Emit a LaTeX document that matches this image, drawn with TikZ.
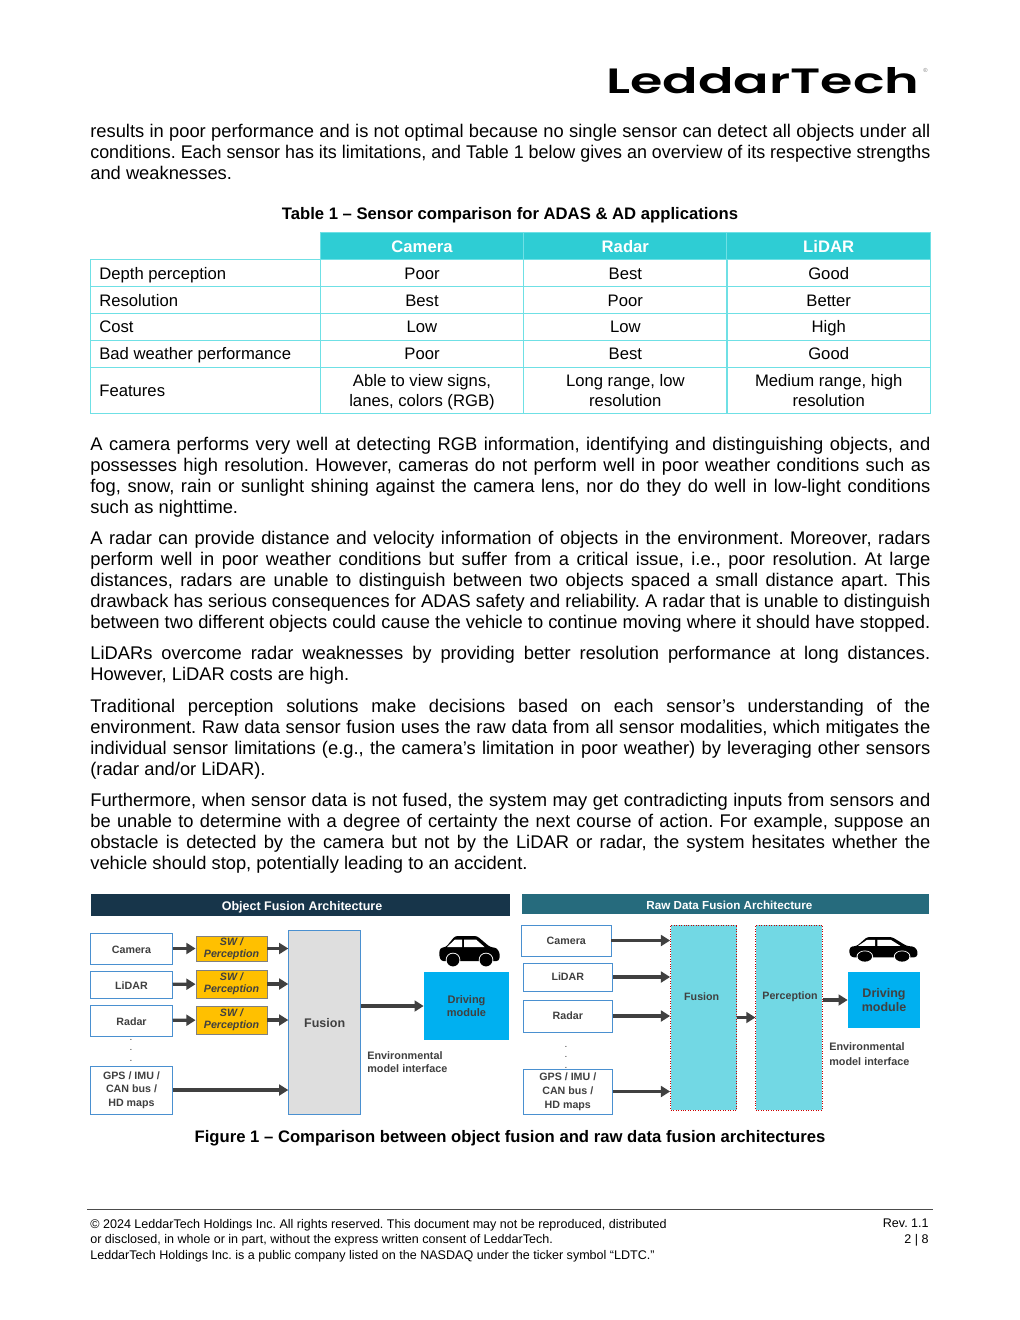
\documentclass[tikz,border=0pt]{standalone}
\usepackage{fontspec}
\setmainfont{Liberation Sans}
\newfontfamily\logofont{Poppins}[UprightFont=* SemiBold]
\usetikzlibrary{positioning}
\usetikzlibrary{matrix}
\usetikzlibrary{arrows.meta}
\definecolor{tableline}{HTML}{6FE0E5}
\definecolor{tablehead}{HTML}{2ECDD4}
\definecolor{objecthead}{HTML}{17354A}
\definecolor{rawhead}{HTML}{266B7D}
\definecolor{boxline}{HTML}{4A90D0}
\definecolor{swfill}{HTML}{FFC000}
\definecolor{fusiongrey}{HTML}{DEDEDE}
\definecolor{drivingblue}{HTML}{00B0F0}
\definecolor{rawfill}{HTML}{72D8E4}
\definecolor{flowgrey}{HTML}{404040}
\newsavebox\linebox
\newcommand*\fitline[1]{%
    \sbox\linebox{#1}%
    \leavevmode\ifdim\wd\linebox>504bp\resizebox{504bp}{\height}{\usebox\linebox}\else\hbox to 504bp{\spaceskip=0pt\xspaceskip=0pt\relax #1}\fi\\%
}
\newcommand*\caricon[4]{%
    \begin{scope}[shift={(#1,#2)},xscale=#3,yscale=#4]%
        \fill[black,rounded corners=1.5] (16,0) -- (38,0) -- (51,11) -- (58,12) -- (61,18)
            -- (60,25) -- (2,25) -- (0,19) -- (1,12) -- (7,11) -- cycle;% body
        \fill[white] (8,11) -- (16,3.5) -- (23,3.5) -- (23,11) -- cycle;% rear window
        \fill[white] (25,3.5) -- (37,3.5) -- (45.5,11) -- (25,11) -- cycle;% front window
        \foreach \x in {14,47}{%
            \fill[white] (\x,24) circle (7.3);%
            \fill[black] (\x,24) circle (6.4);%
        }%
    \end{scope}%
}
\begin{document}
\frenchspacing
\begin{tikzpicture}
    [%
        x=0.6bp,y=-0.6bp,%
        every node/.style={%
            execute at begin node={\spaceskip=.278em\xspaceskip=.278em\relax}%
        },%
        para/.style={%
            anchor=base west,%
            inner sep=0pt,%
            text width=504bp,%
            align=left,%
            font=\fontsize{11bp}{12.6bp}\selectfont%
        },%
        footer/.style={%
            inner sep=0pt,%
            font=\fontsize{7.53bp}{9.2bp}\selectfont%
        },%
        caption/.style={%
            inner sep=0pt,%
            font=\bfseries\fontsize{10bp}{12bp}\selectfont%
        },%
        head bar/.style={%
            inner sep=0pt,%
            text=white,%
            text height=6.5bp,%
            text depth=0pt%
        },%
        sensor/.style={%
            draw=boxline,%
            fill=white,%
            line width=0.5pt,%
            inner sep=0pt,%
            align=center,%
            text=flowgrey%
        },%
        object sensor/.style={%
            sensor,%
            execute at begin node=\rule{0pt}{6bp},%
            font=\bfseries\fontsize{6.4bp}{8bp}\selectfont%
        },%
        raw sensor/.style={%
            sensor,%
            font=\bfseries\fontsize{6.4bp}{8.4bp}\selectfont%
        },%
        sw box/.style={%
            draw=gray,%
            fill=swfill,%
            line width=0.5pt,%
            minimum width=42.6bp,%
            inner sep=0pt,%
            align=center,%
            text=flowgrey,%
            font=\bfseries\itshape\fontsize{6.4bp}{7.2bp}\selectfont%
        },%
        fusion box/.style={%
            draw=boxline,%
            fill=fusiongrey,%
            line width=0.5pt,%
            text=flowgrey,%
            text height=7bp,%
            text depth=0pt,%
            font=\bfseries\fontsize{7.5bp}{9bp}\selectfont%
        },%
        raw box/.style={%
            draw=red!80!black,%
            densely dotted,%
            fill=rawfill,%
            line width=0.5pt,%
            minimum width=39.8bp,%
            minimum height=111bp,%
            inner sep=0pt%
        },%
        raw label/.style={%
            inner sep=0pt,%
            text=flowgrey,%
            font=\bfseries\fontsize{6.4bp}{8bp}\selectfont%
        },%
        driving/.style={%
            fill=drivingblue,%
            inner sep=0pt,%
            align=center,%
            text=flowgrey%
        },%
        note/.style={%
            anchor=north west,%
            inner sep=0pt,%
            align=left,%
            text=flowgrey%
        },%
        dots/.style={%
            inner sep=0pt,%
            align=center,%
            text=flowgrey,%
            font=\fontsize{6bp}{6.3bp}\selectfont%
        },%
        flow/.style={%
            draw=flowgrey,%
            line width=1.9bp,%
            -{Triangle[length=5.5bp,width=6.5bp]}%
        },%
        table grid/.style={%
            matrix of nodes,%
            inner sep=0pt,%
            column sep=-0.6pt,%
            row sep=-0.6pt,%
            nodes={%
                draw=tableline,%
                line width=0.6pt,%
                anchor=center,%
                outer sep=0pt,%
                inner sep=0pt,%
                minimum height=16.1bp,%
                text height=8.4bp,%
                text depth=1.2bp,%
                execute at begin node={\spaceskip=.278em\xspaceskip=.278em\relax},%
                font=\fontsize{10bp}{12bp}\selectfont%
            },%
            column 1/.style={nodes={text width=127.2bp,inner xsep=5.4bp,minimum width=138bp,align=left}},%
            column 2/.style={nodes={text width=122bp,align=center}},%
            column 3/.style={nodes={text width=122bp,align=center}},%
            column 4/.style={nodes={text width=122bp,align=center}},%
            row 1/.style={nodes={fill=tablehead,text=white,minimum height=16.2bp,font=\bfseries\fontsize{10bp}{12bp}\selectfont}},%
            row 6/.style={nodes={minimum height=27.6bp}},%
            row 6 column 2/.style={nodes={text depth=13.2bp}},%
            row 6 column 3/.style={nodes={text depth=13.2bp}},%
            row 6 column 4/.style={nodes={text depth=13.2bp}}%
        }%
    ]%
%
    \useasboundingbox[fill=white] (0,0) rectangle (1020,1320);
%
    \node[inner sep=0pt,anchor=center] (logo) at (763,81)
        {\resizebox{187.8bp}{15.6bp}{\logofont LeddarTech}};
    \node[inner sep=0pt,font=\fontsize{3.5bp}{4bp}\selectfont,text=gray] (logo-mark) at (925.5,70.5) {®};
%
    \node[para] (para-intro) at (90,137) {%
        \fitline{results in poor performance and is not optimal because no single sensor can detect all objects under all}
        \fitline{conditions. Each sensor has its limitations, and Table 1 below gives an overview of its respective strengths}
        and weaknesses.};
    \node[caption] (table-title) at (510,215) {Table 1 – Sensor comparison for ADAS \& AD applications};
%
    \matrix[table grid,anchor=north west] (sensor-table) at (89.5,232) {
        & Camera & Radar & LiDAR \\
        Depth perception & Poor & Best & Good \\
        Resolution & Best & Poor & Better \\
        Cost & Low & Low & High \\
        Bad weather performance & Poor & Best & Good \\
        Features & {Able to view signs,\\ lanes, colors (RGB)} & {Long range, low\\ resolution} & {Medium range, high\\ resolution} \\
    };
%
    \node[para] (para-camera) at (90,450) {%
        \fitline{A camera performs very well at detecting RGB information, identifying and distinguishing objects, and}
        \fitline{possesses high resolution. However, cameras do not perform well in poor weather conditions such as}
        \fitline{fog, snow, rain or sunlight shining against the camera lens, nor do they do well in low-light conditions}
        such as nighttime.};
    \node[para] (para-radar) at (90,544) {%
        \fitline{A radar can provide distance and velocity information of objects in the environment. Moreover, radars}
        \fitline{perform well in poor weather conditions but suffer from a critical issue, i.e., poor resolution. At large}
        \fitline{distances, radars are unable to distinguish between two objects spaced a small distance apart. This}
        \fitline{drawback has serious consequences for ADAS safety and reliability. A radar that is unable to distinguish}
        \fitline{between two different objects could cause the vehicle to continue moving where it should have stopped.}};
    \node[para] (para-lidar) at (90,659) {%
        \fitline{LiDARs overcome radar weaknesses by providing better resolution performance at long distances.}
        However, LiDAR costs are high.};
    \node[para] (para-traditional) at (90,712) {%
        \fitline{Traditional perception solutions make decisions based on each sensor’s understanding of the}
        \fitline{environment. Raw data sensor fusion uses the raw data from all sensor modalities, which mitigates the}
        \fitline{individual sensor limitations (e.g., the camera’s limitation in poor weather) by leveraging other sensors}
        (radar and/or LiDAR).};
    \node[para] (para-further) at (90,806) {%
        \fitline{Furthermore, when sensor data is not fused, the system may get contradicting inputs from sensors and}
        \fitline{be unable to determine with a degree of certainty the next course of action. For example, suppose an}
        \fitline{obstacle is detected by the camera but not by the LiDAR or radar, the system hesitates whether the}
        vehicle should stop, potentially leading to an accident.};
%
    % object fusion side
    \node[head bar,fill=objecthead,minimum width=251.4bp,minimum height=13.2bp,font=\bfseries\fontsize{7.5bp}{9bp}\selectfont] (object-head) at (300.5,905) {\hspace{1.8bp}Object Fusion Architecture};
    \foreach \n/\y/\h/\t in {%
        camera/948.5/18.6bp/Camera,%
        lidar/984.5/16.2bp/LiDAR,%
        radar/1020.5/18.6bp/Radar,%
        gps/1090/28.8bp/{GPS / IMU /\\ CAN bus /\\ HD maps}%
    }
        \node[object sensor,minimum width=49bp,minimum height=\h] (object-\n) at (131.5,\y) {\t};
    \foreach \n/\y/\h in {camera/948.5/15bp,lidar/984/16.8bp,radar/1020/16.8bp}
        \node[sw box,minimum height=\h] (sw-\n) at (231.5,\y) {SW /\\ Perception};
    \node[fusion box,minimum width=43.2bp,minimum height=110.4bp] (object-fusion) at (324.7,1022) {Fusion};
    \node[driving,minimum width=51bp,minimum height=40.8bp,font=\bfseries\fontsize{6.6bp}{8bp}\selectfont] (object-driving) at (466.5,1006) {Driving\\ module};
    \node[note,font=\bfseries\fontsize{6.5bp}{7.9bp}\selectfont] (object-note) at (367,1051) {Environmental\\ model interface};
    \node[dots] (object-dots) at (131,1050) {.\\ .\\ .};
    \caricon{439}{936}{1}{1}
    \foreach \n in {camera,lidar,radar}{
        \draw[flow] (object-\n) -- (sw-\n);
        \draw[flow] (sw-\n) -- (sw-\n -| object-fusion.west);
    }
    \draw[flow] (object-gps) -- (object-gps -| object-fusion.west);
    \draw[flow] (object-driving -| object-fusion.east) -- (object-driving);
%
    % raw data fusion side
    \node[head bar,fill=rawhead,minimum width=244.4bp,minimum height=12bp,font=\bfseries\fontsize{7bp}{8bp}\selectfont] (raw-head) at (725.4,904) {\hspace{4.8bp}Raw Data Fusion Architecture};
    \foreach \n/\x/\y/\h/\t in {%
        camera/566.3/940.5/18.6bp/Camera,%
        lidar/567.8/977/16.8bp/LiDAR,%
        radar/567.8/1016/19.2bp/Radar,%
        gps/567.8/1091.5/27bp/{GPS / IMU /\\ CAN bus /\\ HD maps}%
    }
        \node[raw sensor,minimum width=53.6bp,minimum height=\h] (raw-\n) at (\x,\y) {\t};
    \node[raw box] (raw-fusion) at (703.7,1017.5) {};
    \node[raw box] (raw-perception) at (789,1017.5) {};
    \node[raw label] (raw-fusion-label) at (701.7,997) {Fusion};
    \node[raw label] (raw-perception-label) at (790,997) {Perception};
    \node[driving,minimum width=43.2bp,minimum height=33.6bp,font=\bfseries\fontsize{7.5bp}{8.4bp}\selectfont] (raw-driving) at (884,1000) {Driving\\ module};
    \node[note,font=\bfseries\fontsize{6.5bp}{9bp}\selectfont] (raw-note) at (829,1042) {Environmental\\ model interface};
    \node[dots] (raw-dots) at (566,1057) {.\\ .\\ .};
    \caricon{849}{937}{1.13}{0.81}
    \foreach \n in {camera,lidar,radar,gps}
        \draw[flow] (raw-\n) -- (raw-\n -| raw-fusion.west);
    \draw[flow] (raw-fusion) ++(33,0) coordinate (raw-link) -- (raw-link -| raw-perception.west);
    \draw[flow] (raw-driving -| raw-perception.east) -- (raw-driving);
%
    \node[caption] (figure-title) at (510,1138) {Figure 1 – Comparison between object fusion and raw data fusion architectures};
%
    \coordinate (rule-left) at (87,1209);
    \coordinate (rule-right) at (933,1209);
    \draw[line width=0.6pt,black!70] (rule-left) -- (rule-right);
    \node[footer,align=left,anchor=north west] (footer-text) at (90,1219) {%
        © 2024 LeddarTech Holdings Inc. All rights reserved. This document may not be reproduced, distributed\\
        or disclosed, in whole or in part, without the express written consent of LeddarTech.\\
        LeddarTech Holdings Inc. is a public company listed on the NASDAQ under the ticker symbol “LDTC.”};
    \node[footer,align=right,anchor=north east] (footer-page) at (929,1219) {Rev. 1.1\\ 2 | 8};
\end{tikzpicture}
\end{document}
